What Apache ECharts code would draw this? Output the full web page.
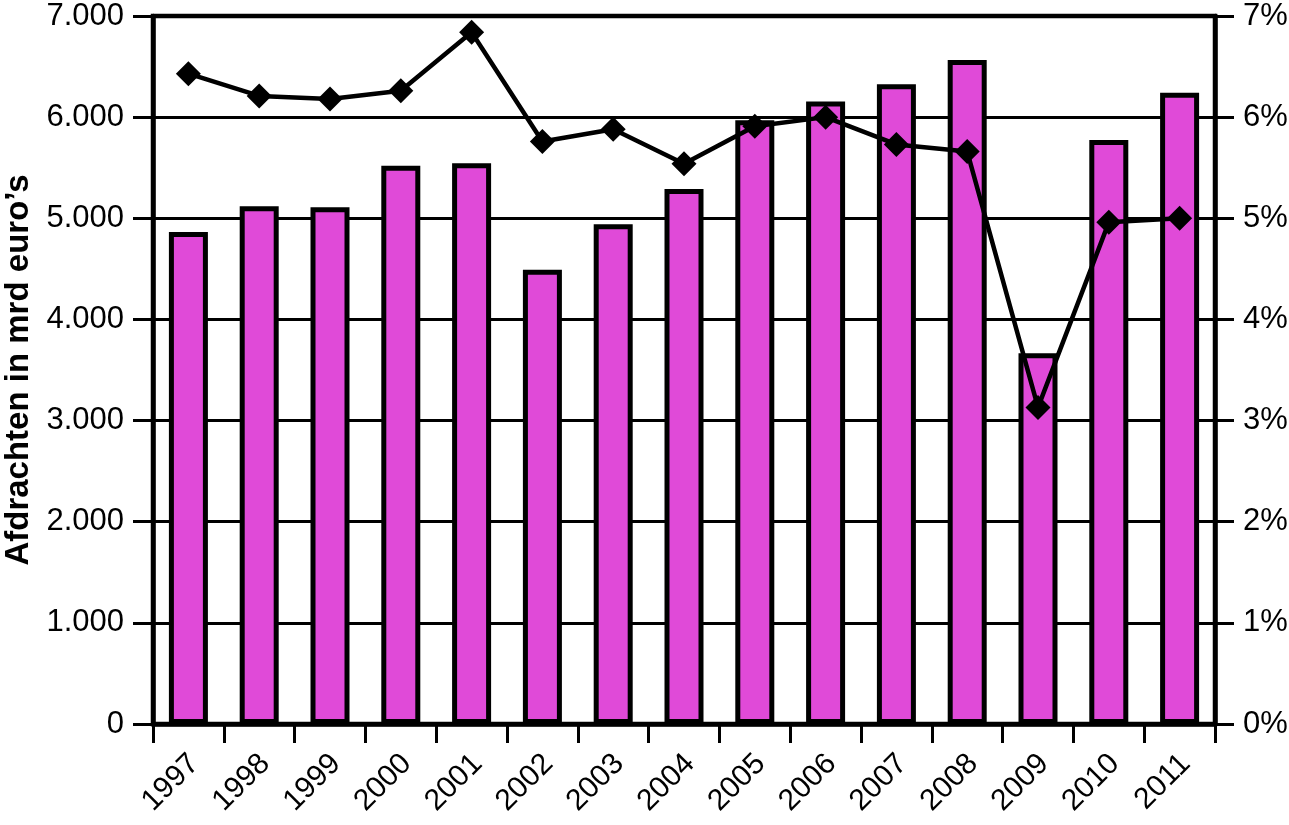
<!DOCTYPE html>
<html>
<head>
<meta charset="utf-8">
<script src="https://cdn.jsdelivr.net/npm/echarts@6/dist/echarts.min.js"></script>
<style>
html,body{margin:0;padding:0;background:#fff;}
#chart{width:1289px;height:825px;}
</style>
</head>
<body>
<div id="chart"></div>
<script>
const years = ['1997','1998','1999','2000','2001','2002','2003','2004','2005','2006','2007','2008','2009','2010','2011'];
const afdrachten = [4865, 5120, 5110, 5520, 5545, 4490, 4940, 5290, 5970, 6155, 6325, 6565, 3665, 5775, 6240];
const percentage = [6.43, 6.21, 6.18, 6.26, 6.84, 5.76, 5.88, 5.54, 5.91, 6.00, 5.73, 5.66, 3.13, 4.96, 5.00];
const leftAxisName = 'Afdrachten in mrd euro\u2019s';

const FONT = '"Liberation Sans", Arial, sans-serif';
const chart = echarts.init(document.getElementById('chart'), null, {renderer: 'canvas'});
chart.setOption({
  animation: false,
  backgroundColor: '#ffffff',
  grid: {left: 153, right: 74, top: 16, bottom: 101, outerBoundsMode: 'none', containLabel: false,
    show: true, borderColor: '#000', borderWidth: 4.5, backgroundColor: 'transparent'},
  xAxis: {
    type: 'category',
    data: years,
    boundaryGap: true,
    axisLine: {show: true, lineStyle: {color: '#000', width: 4.5}},
    axisTick: {show: true, length: 19, lineStyle: {color: '#000', width: 3}},
    axisLabel: {rotate: 45, margin: 41, padding: [0, -8.5, 0, 0], color: '#000', fontSize: 30, fontFamily: FONT, interval: 0}
  },
  yAxis: [{
    type: 'value', min: 0, max: 7000, interval: 1000, position: 'left',
    name: leftAxisName, nameLocation: 'middle', nameGap: 118,
    nameTextStyle: {fontSize: 33, fontWeight: 'bold', color: '#000', fontFamily: FONT},
    axisLine: {show: true, lineStyle: {color: '#000', width: 4.5}},
    axisTick: {show: true, length: 20, lineStyle: {color: '#000', width: 3}},
    axisLabel: {margin: 29, color: '#000', fontSize: 31, fontFamily: FONT,
      formatter: v => v === 0 ? '0' : (v/1000) + '.000'},
    splitLine: {show: true, lineStyle: {color: '#000', width: 3}}
  }, {
    type: 'value', min: 0, max: 7, interval: 1, position: 'right',
    axisLine: {show: true, lineStyle: {color: '#000', width: 4.5}},
    axisTick: {show: true, length: 19, lineStyle: {color: '#000', width: 3}},
    axisLabel: {margin: 28, color: '#000', fontSize: 31, fontFamily: FONT, formatter: v => v + '%'},
    splitLine: {show: false}
  }],
  series: [{
    type: 'bar', data: afdrachten, yAxisIndex: 0, barWidth: 39,
    itemStyle: {color: '#E04AD8', borderColor: '#000', borderWidth: 5}
  }, {
    type: 'line', data: percentage, yAxisIndex: 1,
    symbol: 'diamond', symbolSize: 25,
    lineStyle: {color: '#000', width: 4.5},
    itemStyle: {color: '#000'}
  }]
});
</script>
</body>
</html>
